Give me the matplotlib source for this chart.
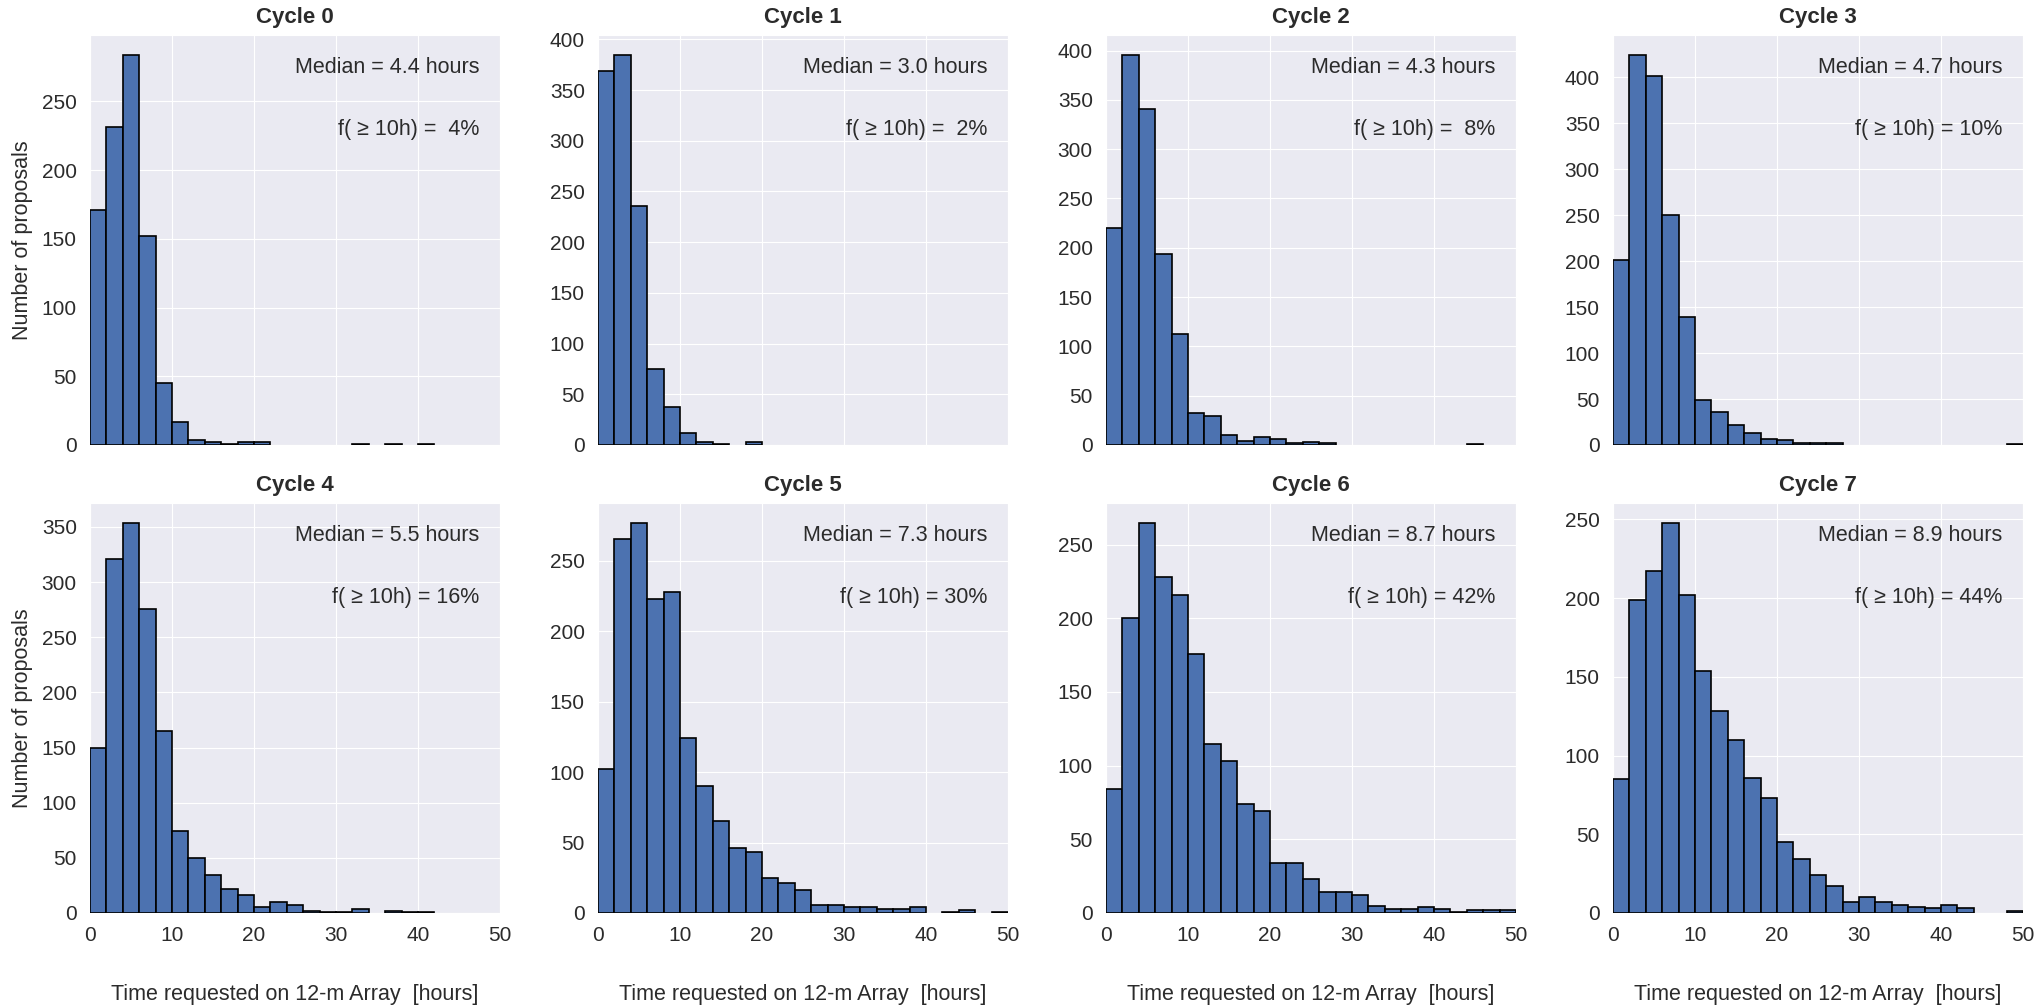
import numpy as np
import matplotlib
matplotlib.use("Agg")
import matplotlib.pyplot as plt
import seaborn as sns

# counts per 2-hour bin, 0..50 h (25 bins)
cycle0 = [171, 231, 284, 152, 45, 17, 4, 2, 1, 2, 2, 0, 0, 0, 0, 0, 1, 0, 1, 0, 1, 0, 0, 0, 0]
cycle1 = [369, 385, 236, 75, 37, 12, 3, 1, 0, 3, 0, 0, 0, 0, 0, 0, 0, 0, 0, 0, 0, 0, 0, 0, 0]
cycle2 = [220, 396, 341, 194, 113, 32, 29, 10, 4, 8, 6, 2, 3, 2, 0, 0, 0, 0, 0, 0, 0, 0, 1, 0, 0]
cycle3 = [201, 425, 402, 250, 139, 49, 36, 22, 13, 6, 5, 2, 2, 2, 0, 0, 0, 0, 0, 0, 0, 0, 0, 0, 1]
cycle4 = [150, 321, 354, 276, 165, 74, 50, 34, 22, 16, 5, 10, 7, 2, 1, 1, 4, 0, 2, 1, 1, 0, 0, 0, 0]
cycle5 = [102, 265, 277, 223, 228, 124, 90, 65, 46, 43, 25, 21, 16, 6, 6, 4, 4, 3, 3, 4, 0, 1, 2, 0, 1]
cycle6 = [84, 200, 265, 228, 216, 176, 115, 103, 74, 69, 34, 34, 23, 14, 14, 12, 5, 3, 3, 4, 3, 1, 2, 2, 2]
cycle7 = [85, 199, 217, 248, 202, 154, 128, 110, 86, 73, 45, 34, 24, 17, 7, 10, 7, 5, 4, 3, 5, 3, 0, 0, 1]

medians = [4.4, 3.0, 4.3, 4.7, 5.5, 7.3, 8.7, 8.9]
frac_10h = [4, 2, 8, 10, 16, 30, 42, 44]

edges = np.arange(0, 52, 2)
counts = [cycle0, cycle1, cycle2, cycle3, cycle4, cycle5, cycle6, cycle7]

sns.set_style("darkgrid")
plt.rcParams["font.family"] = ["Liberation Sans", "DejaVu Sans"]
TXT = "#2b2b2b"

fig = plt.figure(figsize=(20.39, 10.08), dpi=100)
W, H = 2039, 1008
lefts = [90, 598, 1106, 1613]
tops = [35, 503]
size = 410

for i, c in enumerate(counts):
    row, col = divmod(i, 4)
    ax = fig.add_axes([lefts[col] / W, 1 - (tops[row] + size) / H, size / W, size / H])
    c = np.array(c)
    nz = c > 0
    ax.bar(edges[:-1][nz], c[nz], width=2, align="edge", color="#4C72B0",
           edgecolor="black", linewidth=1.2, zorder=3)
    ax.set_xlim(0, 50)
    ax.set_xticks(np.arange(0, 60, 10))
    ax.tick_params(labelsize=15, colors=TXT, pad=6)
    ax.set_title(f"Cycle {i}", fontsize=16, fontweight="bold", color=TXT, pad=9)
    ax.text(0.95, 0.92, f"Median = {medians[i]:.1f} hours", transform=ax.transAxes,
            ha="right", va="center", fontsize=15.5, color=TXT)
    ax.text(0.95, 0.77, f"f( \u2265 10h) = {frac_10h[i]:2d}%", transform=ax.transAxes,
            ha="right", va="center", fontsize=15.5, color=TXT)
    if row == 0:
        ax.set_xticklabels([])
    else:
        ax.set_xlabel("Time requested on 12-m Array  [hours]", fontsize=15.5,
                      color=TXT, labelpad=28)
    if col == 0:
        ax.set_ylabel("Number of proposals", fontsize=15.5, color=TXT, labelpad=6)

fig.savefig("out.png", dpi=100)
